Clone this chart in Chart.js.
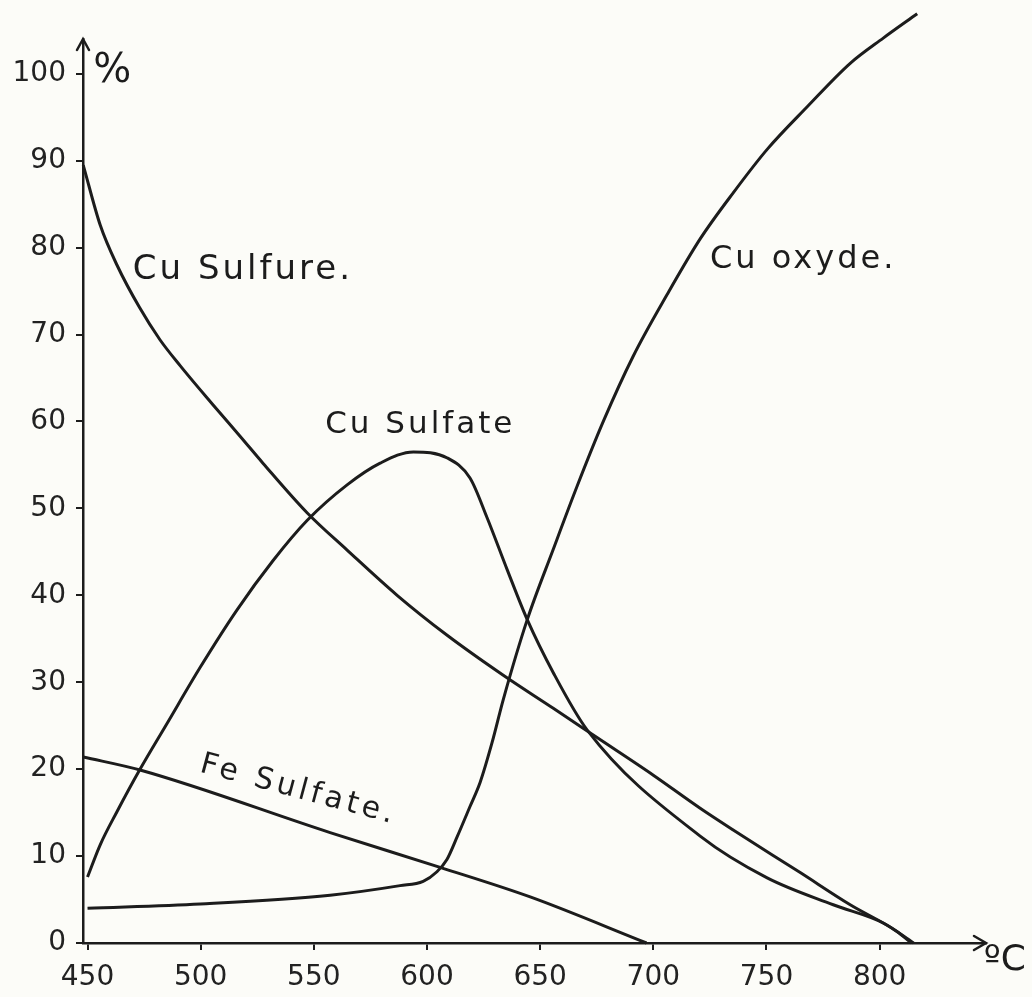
<!DOCTYPE html>
<html>
<head>
<meta charset="utf-8">
<script src="https://cdn.jsdelivr.net/npm/chart.js@4.4.1/dist/chart.umd.min.js"></script>
<style>
  html, body { margin: 0; padding: 0; background: #fcfcf8; overflow: hidden; }
  #wrap { position: relative; width: 1032px; height: 997px; }
</style>
</head>
<body>
<div id="wrap"><canvas id="chart"></canvas></div>
<script>
// Temperatures (°C) and percentages for each compound
const sulfureTemp = [448.1, 455.6, 463, 473, 482, 491, 505.5, 517.4, 527.5, 547, 564.7, 586.8, 608.9, 633.7, 655.8, 675.3, 700, 720.7, 735.3, 764.9, 787, 807.8, 814];
const sulfureVal  = [89.5, 82.6, 78.0, 73.1, 69.4, 66.4, 61.9, 58.3, 55.2, 49.5, 45.2, 40.0, 35.4, 30.8, 27.0, 23.6, 19.3, 15.5, 13.0, 8.1, 4.4, 1.3, 0];

const sulfateTemp = [450, 455.6, 463, 473, 485, 500, 516, 532, 547, 564.7, 579.3, 594, 609, 619, 626.6, 635.5, 644.3, 655.8, 670.8, 720.7, 750.3, 779.5, 801.6, 815];
const sulfateVal  = [7.6, 11.3, 15.1, 19.9, 25.2, 31.8, 38.3, 44.0, 48.6, 52.7, 55.2, 56.5, 55.8, 53.5, 48.9, 42.9, 37.2, 31.1, 24.5, 12.3, 7.5, 4.4, 2.3, 0];

const oxydeTemp = [450, 499.8, 557.2, 588.1, 598.3, 604.4, 608.8, 613.3, 619, 623.5, 628.8, 633.7, 644.3, 655.8, 666.4, 677.9, 691.1, 706.1, 720.7, 735.3, 750.3, 768, 787, 801.6, 816.6];
const oxydeVal  = [4.0, 4.5, 5.5, 6.6, 7.1, 8.2, 9.6, 12.2, 15.7, 18.5, 23.1, 28.0, 37.2, 45.3, 52.6, 60.0, 67.5, 74.6, 81.0, 86.3, 91.3, 96.2, 101.2, 104.1, 106.9];

const feTemp = [448.1, 473.2, 557.2, 605.8, 645.6, 697];
const feVal  = [21.4, 19.9, 12.7, 8.7, 5.3, 0];

const xTicks = [450, 500, 550, 600, 650, 700, 750, 800];
const yTicks = [0, 10, 20, 30, 40, 50, 60, 70, 80, 90, 100];

const curveNames = ['Cu Sulfure.', 'Cu Sulfate', 'Cu oxyde.', 'Fe Sulfate.'];

const INK = '#1c1c1c';
const FONT = '"DejaVu Sans", "Liberation Sans", sans-serif';

function pts(xs, ys) { return xs.map((x, i) => ({ x: x, y: ys[i] })); }

function curve(label, xs, ys) {
  return {
    label: label,
    data: pts(xs, ys),
    borderColor: INK,
    borderWidth: 3,
    pointRadius: 0,
    fill: false,
    cubicInterpolationMode: 'monotone',
    clip: false
  };
}

// Hand-lettered labels placed in data space
const notes = [
  { text: curveNames[0], t: 470, v: 77.4, size: 34, spacing: 3, angle: 0 },
  { text: curveNames[1], t: 555, v: 59.6, size: 31, spacing: 3, angle: 0 },
  { text: curveNames[2], t: 725, v: 78.6, size: 32, spacing: 3, angle: 0 },
  { text: curveNames[3], t: 500, v: 20.6, size: 30, spacing: 4, angle: 15 },
  { text: '%',  t: 452.5, v: 100.2, size: 40, spacing: 0, angle: 0 },
  { text: 'ºC', t: 846,   v: -2.0,  size: 36, spacing: 0, angle: 0 }
];

const decorations = {
  id: 'decorations',
  afterDraw(chart) {
    const ctx = chart.ctx;
    const xs = chart.scales.x, ys = chart.scales.y;
    const a = chart.chartArea;
    ctx.save();
    // arrow heads at the ends of both axes
    ctx.strokeStyle = INK;
    ctx.lineWidth = 2.5;
    ctx.lineCap = 'round';
    ctx.beginPath();
    ctx.moveTo(a.left - 6, a.top + 11);
    ctx.lineTo(a.left, a.top);
    ctx.lineTo(a.left + 6, a.top + 11);
    ctx.moveTo(a.right - 12, a.bottom - 7);
    ctx.lineTo(a.right, a.bottom);
    ctx.lineTo(a.right - 12, a.bottom + 7);
    ctx.stroke();
    // curve names and axis units
    ctx.fillStyle = INK;
    ctx.textAlign = 'left';
    ctx.textBaseline = 'middle';
    notes.forEach(n => {
      ctx.save();
      ctx.translate(xs.getPixelForValue(n.t), ys.getPixelForValue(n.v));
      ctx.rotate(n.angle * Math.PI / 180);
      ctx.font = n.size + 'px ' + FONT;
      if ('letterSpacing' in ctx) ctx.letterSpacing = n.spacing + 'px';
      ctx.fillText(n.text, 0, 0);
      ctx.restore();
    });
    ctx.restore();
  }
};

new Chart(document.getElementById('chart'), {
  type: 'line',
  data: {
    datasets: [
      curve(curveNames[0], sulfureTemp, sulfureVal),
      curve(curveNames[1], sulfateTemp, sulfateVal),
      curve(curveNames[2], oxydeTemp, oxydeVal),
      curve(curveNames[3], feTemp, feVal)
    ]
  },
  options: {
    responsive: true,
    maintainAspectRatio: false,
    animation: false,
    layout: { padding: { left: 0, top: 39, right: 46, bottom: 0 } },
    plugins: { legend: { display: false }, tooltip: { enabled: false } },
    scales: {
      x: {
        type: 'linear',
        min: 448,
        max: 847,
        afterBuildTicks: s => { s.ticks = xTicks.map(v => ({ value: v })); },
        afterFit: s => { s.height = 54; },
        border: { display: true, color: INK, width: 2.5 },
        grid: { drawOnChartArea: false, drawTicks: true, tickLength: 7, color: INK, lineWidth: 2 },
        ticks: { color: '#222', padding: 11, maxRotation: 0, autoSkip: false,
                 font: { family: FONT, size: 28 } }
      },
      y: {
        type: 'linear',
        min: 0,
        max: 104,
        afterBuildTicks: s => { s.ticks = yTicks.map(v => ({ value: v })); },
        afterFit: s => { s.width = 83; },
        border: { display: true, color: INK, width: 2.5 },
        grid: { drawOnChartArea: false, drawTicks: true, tickLength: 7, color: INK, lineWidth: 2 },
        ticks: { color: '#222', padding: 10, autoSkip: false,
                 font: { family: FONT, size: 28 } }
      }
    }
  },
  plugins: [decorations]
});
</script>
</body>
</html>
